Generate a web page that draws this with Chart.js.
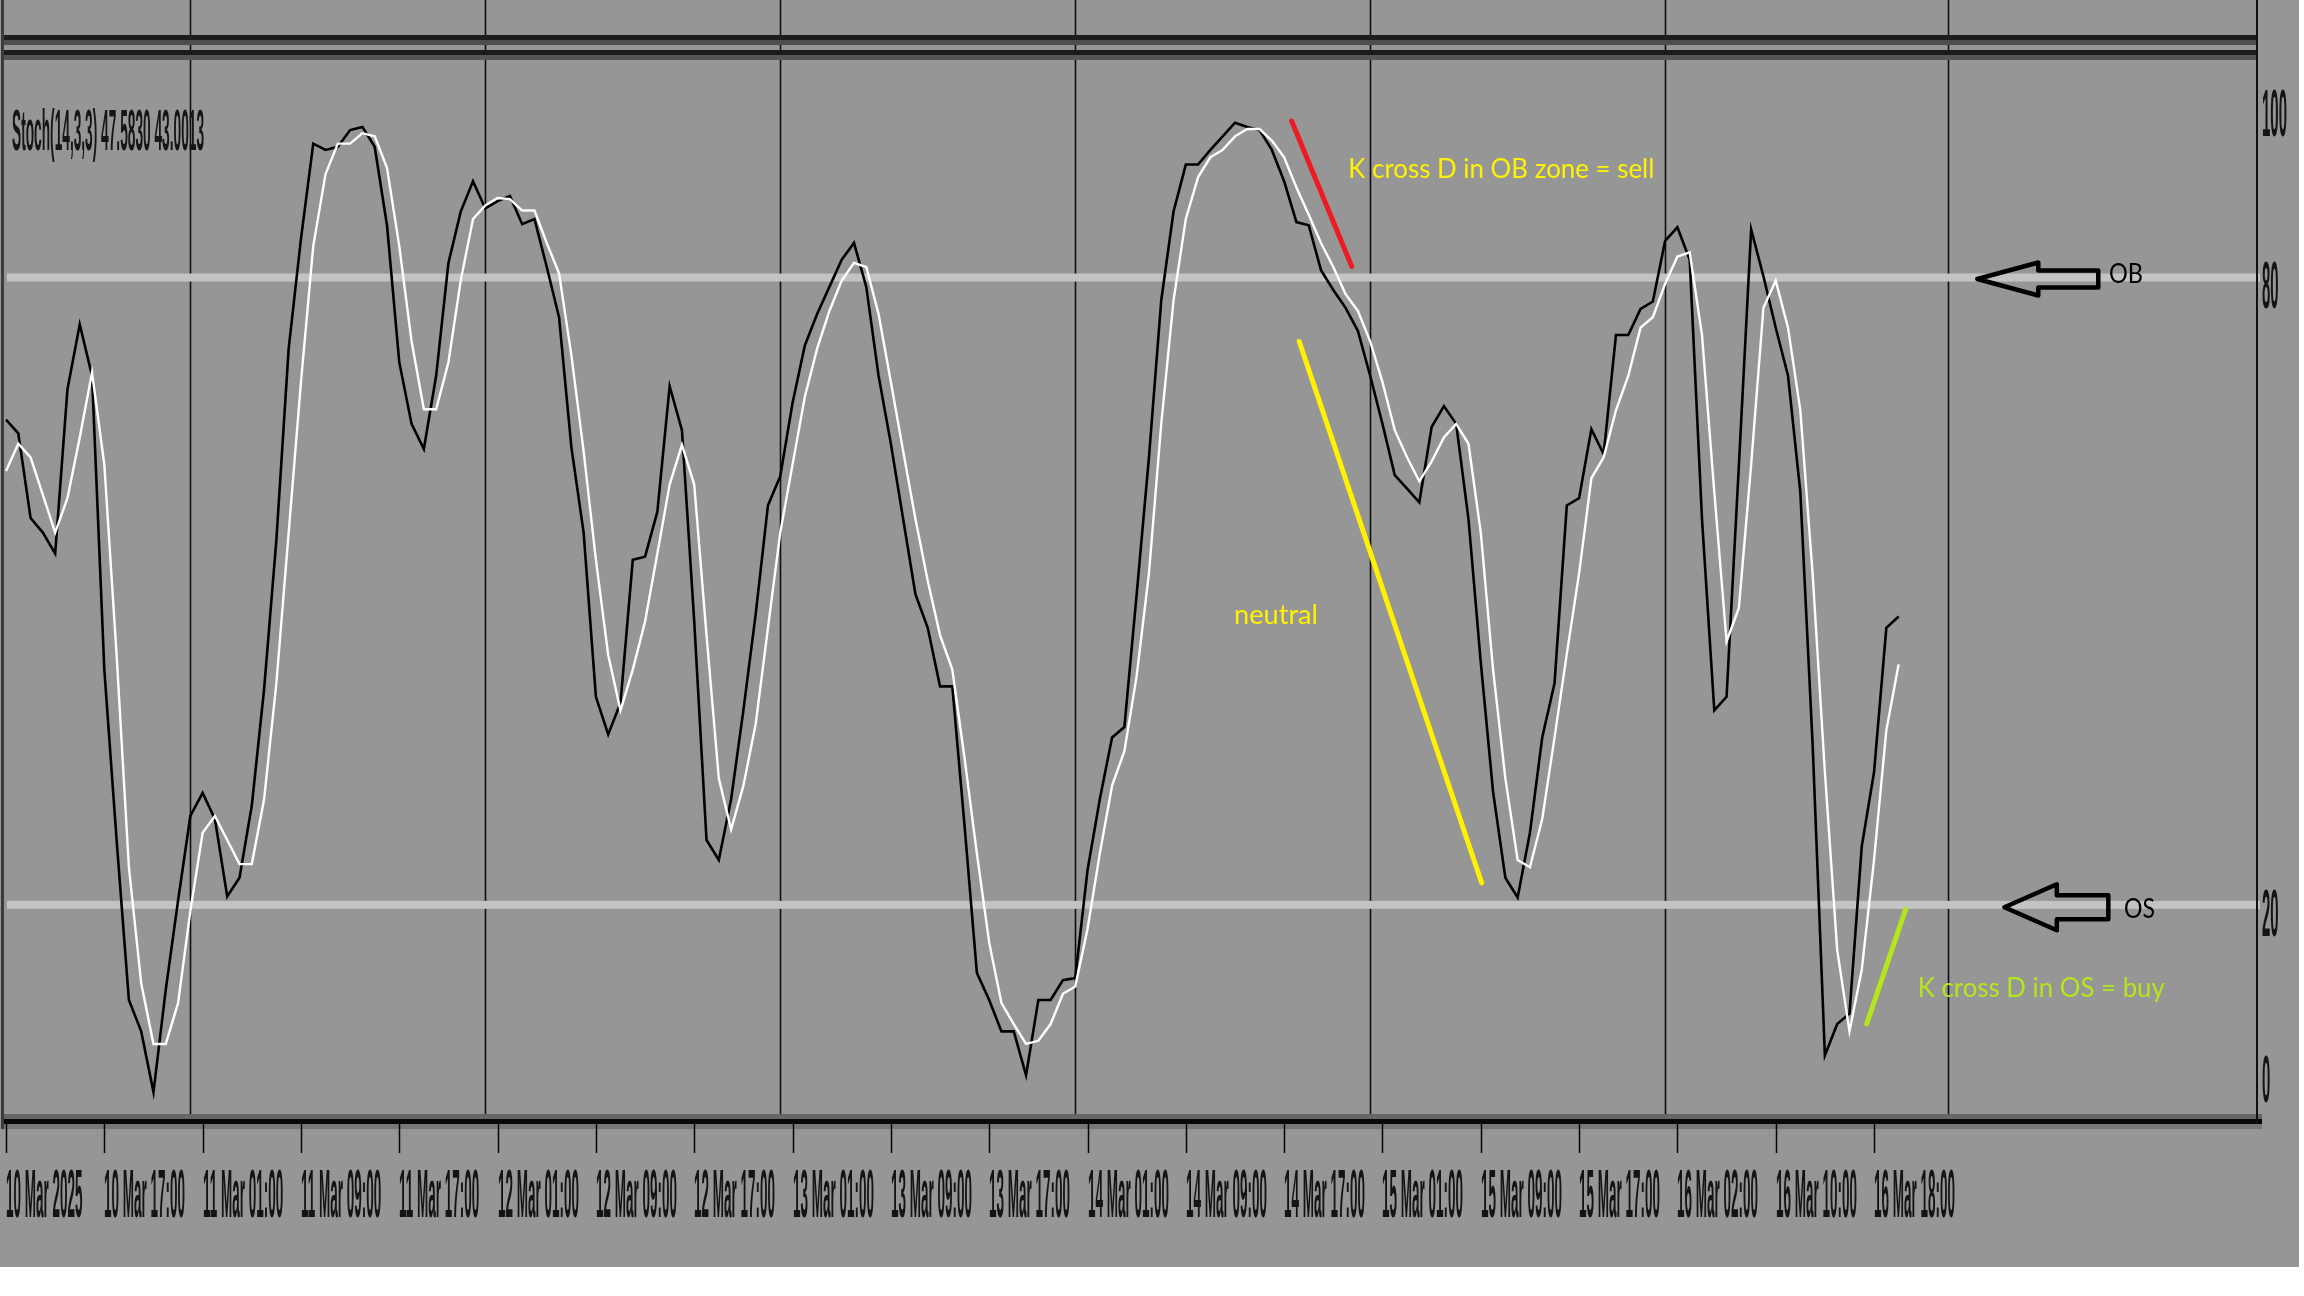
<!DOCTYPE html>
<html>
<head>
<meta charset="utf-8">
<script src="https://cdn.jsdelivr.net/npm/chart.js@4.4.1/dist/chart.umd.min.js"></script>
<style>
html,body{margin:0;padding:0;background:#ffffff;overflow:hidden;}
#wrap{width:2304px;height:1296px;position:relative;}
canvas{display:block;}
</style>
</head>
<body>
<div id="wrap"><canvas id="c" width="2304" height="1296"></canvas></div>
<script>
// ---------------- DATA ----------------
const headerText = 'Stoch(14,3,3) 47.5830 43.0013';

const tickLabels = ['10 Mar 2025','10 Mar 17:00','11 Mar 01:00','11 Mar 09:00','11 Mar 17:00',
  '12 Mar 01:00','12 Mar 09:00','12 Mar 17:00','13 Mar 01:00','13 Mar 09:00','13 Mar 17:00',
  '14 Mar 01:00','14 Mar 09:00','14 Mar 17:00','15 Mar 01:00','15 Mar 09:00','15 Mar 17:00',
  '16 Mar 02:00','16 Mar 10:00','16 Mar 18:00'];
const tickBars = [0,8,16,24,32,40,48,56,64,72,80,88,96,104,112,120,128,136,144,152];

const daySeparatorBars = [15,39,63,87,111,135,158];

const yTickValues = [100,80,20,0];
const yTickLabels = ['100','80','20','0'];
const levelValues = [80,20];

// %K (main, black)
const kValues = [
  66.4,65.1,57.0,55.6,53.6,69.3,75.5,70.6,42.5,26.2,
  10.9,7.9,2.1,11.9,20.4,28.5,30.7,28.2,20.8,22.6,
  29.5,40.6,54.9,73.2,83.7,92.8,92.2,92.5,94.1,94.4,
  92.5,85.0,71.9,66.0,63.6,70.6,81.4,86.3,89.2,86.6,
  87.3,87.8,85.1,85.6,81.0,76.2,63.8,55.6,39.9,36.3,
  39.3,53.0,53.3,57.6,69.6,65.4,47.1,26.2,24.3,30.1,
  38.6,47.8,58.2,61.0,68.0,73.5,76.5,79.1,81.7,83.3,
  79.1,70.6,64.1,56.9,49.7,46.5,40.9,40.9,27.5,13.5,
  10.9,7.9,7.9,3.7,10.9,10.9,12.8,13.0,23.3,30.1,
  36.0,37.0,49.7,62.8,77.8,86.3,90.8,90.8,92.2,93.5,
  94.8,94.4,94.1,92.2,89.2,85.3,85.0,80.7,78.8,77.1,
  74.9,70.6,66.0,61.1,59.8,58.5,65.7,67.7,66.0,56.9,
  43.2,30.8,22.6,20.7,26.9,36.0,41.2,58.2,58.9,65.5,
  63.1,74.5,74.5,77.0,77.7,83.5,84.8,81.7,56.9,38.6,
  39.9,62.0,84.6,80.1,75.2,70.6,59.5,35.4,5.6,8.6,
  9.6,25.6,32.7,46.5,47.583
];

// %D (signal, white)
const dValues = [
  61.5,64.1,62.8,59.2,55.6,58.9,64.7,70.9,62.1,43.9,
  23.6,12.5,6.7,6.7,10.6,19.4,26.9,28.5,26.2,23.9,
  23.9,30.1,41.2,55.6,70.0,83.0,89.9,92.8,92.8,93.8,
  93.5,90.5,83.0,73.9,67.4,67.4,71.9,79.7,85.6,86.9,
  87.6,87.5,86.4,86.4,83.3,80.4,72.6,63.4,53.0,43.9,
  38.6,42.5,47.1,53.6,60.2,64.0,60.2,45.8,32.1,27.2,
  31.4,37.3,46.5,55.6,62.1,68.6,73.2,76.8,79.7,81.4,
  81.0,76.5,70.0,63.4,56.9,51.0,45.8,42.5,34.0,24.9,
  16.4,10.6,8.6,6.7,7.0,8.6,11.5,12.2,17.7,24.9,
  31.4,34.7,41.9,51.7,66.0,77.8,85.6,89.6,91.5,92.2,
  93.5,94.2,94.2,93.1,91.5,88.6,86.0,83.3,81.0,78.4,
  76.8,73.9,70.0,65.4,62.8,60.5,62.4,64.7,66.0,64.1,
  55.6,42.5,32.1,24.3,23.6,28.2,36.0,44.0,51.7,60.8,
  62.8,67.3,70.6,75.2,76.2,79.4,82.0,82.4,74.5,59.5,
  45.2,48.4,62.1,77.1,79.7,75.2,67.3,51.7,32.7,15.7,
  7.9,13.8,24.3,36.7,43.0013
];

// Annotations (in chart units: bar index, stochastic value)
const annotLines = [
  { from:[104.61,94.96], to:[109.50,81.06], color:'#ed1c24' },
  { from:[105.23,73.88], to:[120.07,22.11], color:'#fff200' },
  { from:[151.40,8.61],  to:[154.57,19.57], color:'#b5e61d' }
];
const annotTexts = [
  { text:'K cross D in OB zone = sell', bar:109.22, value:89.5,  width:306, color:'#fff200' },
  { text:'neutral',                     bar:99.92,  value:46.87, width:84,  color:'#fff200' },
  { text:'K cross D in OS = buy',       bar:155.56, value:11.19, width:247, color:'#b5e61d' },
  { text:'OB',                          bar:171.11, value:79.52, width:34,  color:'#000000' },
  { text:'OS',                          bar:172.33, value:18.75, width:31,  color:'#000000' }
];
const arrows = [
  { tipBar:160.4, tipValue:79.86, length:121, headLen:61, headHalf:16.5, shaftHalf:8.5 },
  { tipBar:162.6, tipValue:19.77, length:104, headLen:52.5, headHalf:23,  shaftHalf:12 }
];

// ---------------- HELPERS ----------------
function drawSqueezed(ctx, text, x, baseline, fontPx, weight, sx, color){
  ctx.save();
  ctx.font = weight + ' ' + fontPx + 'px "Liberation Sans", Arial, sans-serif';
  ctx.fillStyle = color;
  ctx.textAlign = 'left';
  ctx.textBaseline = 'alphabetic';
  ctx.translate(x, baseline);
  ctx.scale(sx, 1);
  ctx.fillText(text, 0, 0);
  ctx.restore();
}
function squeezeFactor(ctx, text, fontPx, weight, target){
  ctx.save();
  ctx.font = weight + ' ' + fontPx + 'px "Liberation Sans", Arial, sans-serif';
  const w = ctx.measureText(text).width;
  ctx.restore();
  return target / w;
}
function drawFitText(ctx, text, x, baseline, width, color){
  ctx.save();
  ctx.font = '27px Lato, "Open Sans", sans-serif';
  const w = ctx.measureText(text).width;
  ctx.fillStyle = color;
  ctx.textAlign = 'left';
  ctx.textBaseline = 'alphabetic';
  ctx.translate(x, baseline);
  ctx.scale(width / w, 1);
  ctx.fillText(text, 0, 0);
  ctx.restore();
}

// ---------------- PLUGINS ----------------
const bgPlugin = {
  id:'bg',
  beforeDraw(chart){
    const ctx = chart.ctx;
    ctx.save();
    ctx.fillStyle = '#ffffff';
    ctx.fillRect(0,0,chart.width,chart.height);
    ctx.fillStyle = '#969696';
    ctx.fillRect(0,0,chart.width-5,chart.height-29);
    ctx.restore();
  },
  beforeDatasetsDraw(chart){
    const {ctx, chartArea:a, scales:{x:xs, y:ys}} = chart;
    ctx.save();
    // day separators
    ctx.strokeStyle = '#101010';
    ctx.lineWidth = 1.6;
    daySeparatorBars.forEach(b => {
      const x = Math.round(xs.getPixelForValue(b)) + 0.5;
      ctx.beginPath(); ctx.moveTo(x, 0); ctx.lineTo(x, a.bottom + 6); ctx.stroke();
    });
    // OB / OS levels
    ctx.fillStyle = '#c3c3c3';
    levelValues.forEach(v => {
      const y = ys.getPixelForValue(v);
      ctx.fillRect(a.left + 3, y - 4, a.right + 3 - (a.left + 3), 8);
    });
    ctx.restore();
  },
  afterDatasetsDraw(chart){
    const {ctx, chartArea:a, scales:{x:xs, y:ys}} = chart;
    ctx.save();
    const L = 2, R = a.right + 1;
    // window borders (top: bottom border of main window + top border of sub-window)
    ctx.fillStyle = '#1c1c1c'; ctx.fillRect(L, a.top - 25, R - L, 5);
    ctx.fillStyle = '#4e4e4e'; ctx.fillRect(L, a.top - 20, R - L, 5);
    ctx.fillStyle = '#1c1c1c'; ctx.fillRect(L, a.top - 10, R - L, 5);
    ctx.fillStyle = '#555555'; ctx.fillRect(L, a.top - 5, R - L, 5);
    // bottom border
    ctx.fillStyle = '#666666'; ctx.fillRect(L, a.bottom, R - L + 4, 5);
    ctx.fillStyle = '#080808'; ctx.fillRect(L, a.bottom + 5, R - L + 4, 5);
    ctx.fillStyle = '#777777'; ctx.fillRect(L, a.bottom + 10, R - L + 4, 5);
    // right & left borders
    ctx.fillStyle = '#101010'; ctx.fillRect(a.right - 1, 0, 2, a.bottom + 10);
    ctx.fillStyle = '#3c3c3c'; ctx.fillRect(1, 0, 3, a.bottom + 15);

    // x tick marks and labels
    ctx.strokeStyle = '#050505';
    ctx.lineWidth = 1.5;
    const sxX = squeezeFactor(ctx, '10 Mar 17:00', 68, 'bold', 81);
    tickBars.forEach((b, i) => {
      const x = Math.round(xs.getPixelForValue(b)) + 0.5;
      ctx.beginPath(); ctx.moveTo(x, a.bottom + 10); ctx.lineTo(x, a.bottom + 39); ctx.stroke();
      drawSqueezed(ctx, tickLabels[i], x - 0.5, a.bottom + 103, 68, 'bold', sxX, '#141414');
    });

    // y labels on the right
    const sxY = squeezeFactor(ctx, '100', 66, 'bold', 25);
    yTickValues.forEach((v, i) => {
      const yl = ys.getPixelForValue(v);
      const c = Math.min(Math.max(yl + 7, a.top + 52), a.bottom - 36);
      drawSqueezed(ctx, yTickLabels[i], a.right + 5, c + 0.358 * 66, 66, 'bold', sxY, '#141414');
    });

    // indicator header
    const sxH = squeezeFactor(ctx, headerText, 58, 'bold', 192);
    drawSqueezed(ctx, headerText, a.left + 8, a.top + 90, 58, 'bold', sxH, '#161616');

    // annotation lines
    ctx.lineCap = 'round';
    ctx.lineWidth = 5;
    annotLines.forEach(l => {
      ctx.strokeStyle = l.color;
      ctx.beginPath();
      ctx.moveTo(xs.getPixelForValue(l.from[0]), ys.getPixelForValue(l.from[1]));
      ctx.lineTo(xs.getPixelForValue(l.to[0]), ys.getPixelForValue(l.to[1]));
      ctx.stroke();
    });

    // arrows
    ctx.strokeStyle = '#000000';
    ctx.lineWidth = 4.5;
    ctx.lineJoin = 'round';
    arrows.forEach(ar => {
      const tx = xs.getPixelForValue(ar.tipBar), ty = ys.getPixelForValue(ar.tipValue);
      const hx = tx + ar.headLen, ex = tx + ar.length;
      ctx.beginPath();
      ctx.moveTo(tx, ty);
      ctx.lineTo(hx, ty - ar.headHalf);
      ctx.lineTo(hx, ty - ar.shaftHalf);
      ctx.lineTo(ex, ty - ar.shaftHalf);
      ctx.lineTo(ex, ty + ar.shaftHalf);
      ctx.lineTo(hx, ty + ar.shaftHalf);
      ctx.lineTo(hx, ty + ar.headHalf);
      ctx.closePath();
      ctx.stroke();
    });

    // annotation texts
    annotTexts.forEach(t => {
      drawFitText(ctx, t.text, xs.getPixelForValue(t.bar), ys.getPixelForValue(t.value), t.width, t.color);
    });
    ctx.restore();
  }
};

// ---------------- CHART ----------------
new Chart(document.getElementById('c'), {
  type: 'line',
  data: {
    datasets: [
      { label:'%D', data: dValues.map((v,i)=>({x:i, y:v})), borderColor:'#ffffff', borderWidth:2.4,
        pointRadius:0, tension:0, fill:false, order:0 },
      { label:'%K', data: kValues.map((v,i)=>({x:i, y:v})), borderColor:'#000000', borderWidth:2.6,
        pointRadius:0, tension:0, fill:false, order:1 }
    ]
  },
  options: {
    responsive:false,
    animation:false,
    devicePixelRatio:1,
    events:[],
    layout:{ padding:{ left:4, right:47, top:60, bottom:182 } },
    scales:{
      x:{ type:'linear', min:-0.163, max:183.16, display:false },
      y:{ type:'linear', min:0, max:100.8, display:false }
    },
    plugins:{ legend:{display:false}, tooltip:{enabled:false} }
  },
  plugins:[bgPlugin]
});
</script>
</body>
</html>
